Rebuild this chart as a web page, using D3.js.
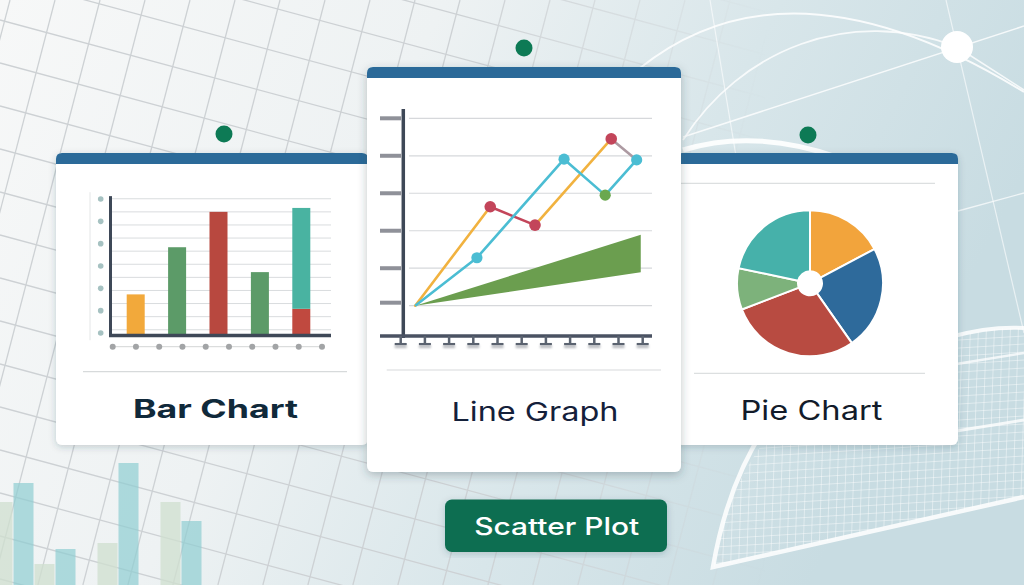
<!DOCTYPE html>
<html><head><meta charset="utf-8">
<script src="https://cdn.jsdelivr.net/npm/d3@7"></script>
<style>html,body{margin:0;padding:0;overflow:hidden;background:#eef2f3}</style>
</head><body><svg id="c" width="1024" height="585"></svg>
<script>
// ---------------- DATA ----------------
const barCategories = ["A", "B", "C", "D", "E"];
const barValues = [3.1, 6.7, 9.4, 4.8, 2.0];
const barStackValues = [0, 0, 0, 0, 7.7];
const barGridTicks = [0.4, 1.4, 2.4, 3.4, 4.4, 5.4, 6.4, 7.4, 8.4, 9.4, 10.4];
const barYDots = [0, 1, 2, 3, 4, 5, 6];
const barXDots = [0, 1, 2, 3, 4, 5, 6, 7, 8, 9];

const lineXTicks = [0, 1, 2, 3, 4, 5, 6, 7, 8, 9, 10];
const lineYTicks = [0, 1, 2, 3, 4, 5];
const lineUpper = [[0.6, 0], [3.7, 2.64], [5.55, 2.15], [8.7, 4.45], [9.75, 3.89]];
const lineBlue = [[0.6, 0], [3.15, 1.28], [6.75, 3.91], [8.45, 2.95], [9.75, 3.89]];
const bandX = [0.6, 9.92];
const bandLow = [0, 0.89];
const bandHigh = [0, 1.89];

const pieLabels = ["Orange", "Blue", "Red", "Green", "Teal"];
const pieValues = [62, 83, 104, 33, 78];

const bgCategories = ["c0", "c1", "c2", "c3", "c4", "c5", "c6", "c7", "c8", "c9"];
const bgValues = [83, 102, 21, 36, null, 42, 122, null, 83, 64];
const bgKinds = ["s", "t", "s", "t", null, "s", "t", null, "s", "t"];

const titles = ["Bar Chart", "Line Graph", "Pie Chart", "Scatter Plot"];

// ---------------- STYLE ----------------
const C = {
  header: "#2b6a99", dot: "#0d7a55", axis: "#3e4857", grid: "#d9dcde",
  orange: "#f2a93b", green: "#5c9b68", red: "#b8483f", teal: "#49b3a1",
  lOrange: "#f1b23f", lBlue: "#4bbdd3", lRed: "#c3455a", lMauve: "#ad9aa2", lGreen: "#6aa84f",
  band: "#6b9e4f"
};
const barColors = [C.orange, C.green, C.red, C.green, "#c0493f"];
const pieColors = ["#f2a43c", "#2e6a9b", "#b84b41", "#7db27b", "#46b1aa"];

const svg = d3.select("#c");
const defs = svg.append("defs");

// background gradient
const bg = defs.append("linearGradient").attr("id", "bgG").attr("x1", 0).attr("y1", 0).attr("x2", 1).attr("y2", 0.3);
[[0, "#f7f8f8"], [0.4, "#eef2f3"], [0.7, "#d8e6ea"], [1, "#c8dce2"]].forEach(s => bg.append("stop").attr("offset", s[0]).attr("stop-color", s[1]));
svg.append("rect").attr("width", 1024).attr("height", 585).attr("fill", "url(#bgG)");

// shadow filters
const sh = defs.append("filter").attr("id", "sh").attr("x", -0.1).attr("y", -0.1).attr("width", 1.2).attr("height", 1.2);
sh.append("feDropShadow").attr("dx", 0).attr("dy", 2).attr("stdDeviation", 3.5).attr("flood-color", "#2a3d4a").attr("flood-opacity", 0.22);
const sh2 = defs.append("filter").attr("id", "sh2").attr("x", -0.1).attr("y", -0.1).attr("width", 1.2).attr("height", 1.2);
sh2.append("feDropShadow").attr("dx", 0).attr("dy", 3).attr("stdDeviation", 5).attr("flood-color", "#2a3d4a").attr("flood-opacity", 0.3);
const tsh = defs.append("filter").attr("id", "tsh").attr("x", -0.5).attr("y", -0.5).attr("width", 2).attr("height", 2);
tsh.append("feGaussianBlur").attr("stdDeviation", 1.2);

// grid mask
const mg = defs.append("linearGradient").attr("id", "mG").attr("x1", 0).attr("y1", 0).attr("x2", 1).attr("y2", 0);
[[0, 1], [0.45, 1], [0.62, 0.5], [0.75, 0]].forEach(s => mg.append("stop").attr("offset", s[0]).attr("stop-color", "white").attr("stop-opacity", s[1]));
defs.append("mask").attr("id", "gm").append("rect").attr("width", 1024).attr("height", 585).attr("fill", "url(#mG)");

// left perspective grid
const gridG = svg.append("g").attr("mask", "url(#gm)").attr("stroke", "#cdd1d4").attr("stroke-width", 1.3).attr("fill", "none");
d3.range(-6, 26).forEach(i => {
  const x0 = 10 + 45 * i;
  gridG.append("line").attr("x1", x0).attr("y1", 0).attr("x2", x0 - 0.26 * 585).attr("y2", 585);
});
d3.range(-12, 16).forEach(j => {
  const y0 = 20 + 43 * j;
  gridG.append("line").attr("x1", 0).attr("y1", y0).attr("x2", 1024).attr("y2", y0 + 0.27 * 1024);
});

// right-side decorative white lines
const deco = svg.append("g").attr("fill", "none").attr("stroke", "white");
deco.append("path").attr("d", "M 640,68 Q 790,-52 1024,92").attr("stroke-width", 2).attr("stroke-opacity", 0.85);
deco.append("path").attr("d", "M 683,140 C 740,50 850,5 957,47").attr("stroke-width", 1.8).attr("stroke-opacity", 0.8);
deco.append("line").attr("x1", 683).attr("y1", 137).attr("x2", 1024).attr("y2", 26).attr("stroke-width", 1.5).attr("stroke-opacity", 0.8);
deco.append("line").attr("x1", 957).attr("y1", 47).attr("x2", 1024).attr("y2", 90).attr("stroke-width", 1.5).attr("stroke-opacity", 0.8);
deco.append("line").attr("x1", 710).attr("y1", 0).attr("x2", 760).attr("y2", 300).attr("stroke-width", 1.2).attr("stroke-opacity", 0.6);
deco.append("line").attr("x1", 946).attr("y1", 0).attr("x2", 1024).attr("y2", 333).attr("stroke-width", 1.2).attr("stroke-opacity", 0.6);
deco.append("line").attr("x1", 958).attr("y1", 211).attr("x2", 1024).attr("y2", 193).attr("stroke-width", 1.3).attr("stroke-opacity", 0.7);
deco.append("path").attr("d", "M 683,150 Q 755,128 840,158").attr("stroke-width", 5).attr("stroke-opacity", 0.9);
svg.append("circle").attr("cx", 957).attr("cy", 47).attr("r", 16).attr("fill", "white");

// bottom-right fine grid
defs.append("clipPath").attr("id", "fg").append("path").attr("d", "M 713,567 Q 728,470 800,400 L 958,336 Q 990,326 1024,328 L 1024,497 Z");
const fgG = svg.append("g").attr("clip-path", "url(#fg)").attr("stroke", "white").attr("stroke-opacity", 0.55).attr("stroke-width", 0.8);
d3.range(0, 50).forEach(i => fgG.append("line").attr("x1", 700 + i * 8).attr("y1", 280).attr("x2", 690 + i * 8).attr("y2", 585));
d3.range(0, 45).forEach(i => fgG.append("line").attr("x1", 700).attr("y1", 260 + i * 8).attr("x2", 1024).attr("y2", 240 + i * 8));
deco.append("path").attr("d", "M 770,420 Q 728,480 713,567 L 1024,497").attr("stroke-width", 4.5).attr("stroke-opacity", 0.85);
deco.append("path").attr("d", "M 950,337 Q 990,326 1024,328").attr("stroke-width", 4).attr("stroke-opacity", 0.85);
deco.append("line").attr("x1", 950).attr("y1", 365).attr("x2", 1024).attr("y2", 353).attr("stroke-width", 2.5).attr("stroke-opacity", 0.75);
deco.append("line").attr("x1", 950).attr("y1", 432).attr("x2", 1024).attr("y2", 420).attr("stroke-width", 3).attr("stroke-opacity", 0.8);

// faint background bars (bottom-left)
const bgX = d3.scaleBand().domain(bgCategories).range([-8, 202]).padding(0);
const bgY = d3.scaleLinear().domain([0, 130]).range([585, 455]);
svg.append("g").selectAll("rect").data(bgCategories.map((c, i) => ({ c, v: bgValues[i], k: bgKinds[i] })).filter(d => d.v !== null))
  .join("rect").attr("x", d => bgX(d.c) + 0.5).attr("width", bgX.bandwidth() - 1)
  .attr("y", d => bgY(d.v)).attr("height", d => bgY(0) - bgY(d.v))
  .attr("fill", d => d.k === "t" ? "#8fcdd2" : "#cfdfcf").attr("fill-opacity", d => d.k === "t" ? 0.7 : 0.75);

// green dots
[[224, 134], [524, 48], [808, 135]].forEach(p => svg.append("circle").attr("cx", p[0]).attr("cy", p[1]).attr("r", 8.5).attr("fill", C.dot));

// card helper
function card(x, y, w, h, filt) {
  const g = svg.append("g");
  g.append("rect").attr("x", x).attr("y", y).attr("width", w).attr("height", h).attr("rx", 6).attr("fill", "white").attr("filter", filt);
  const r = 6, hh = 11;
  g.append("path").attr("d", `M${x},${y + hh} L${x},${y + r} Q${x},${y} ${x + r},${y} L${x + w - r},${y} Q${x + w},${y} ${x + w},${y + r} L${x + w},${y + hh} Z`).attr("fill", C.header);
  return g;
}

// ---------------- LEFT CARD: BAR CHART ----------------
const L = card(56, 153, 312, 292, "url(#sh)");
const bx = d3.scalePoint().domain(barCategories).range([115, 322]).padding(0.5);
const by = d3.scaleLinear().domain([0, 10]).range([335, 204]);
const barW = 18;
L.append("line").attr("x1", 90).attr("x2", 90).attr("y1", by(10.9)).attr("y2", by(-0.4)).attr("stroke", "#e4e6e7").attr("stroke-width", 1);
L.append("g").selectAll("line").data(barGridTicks).join("line")
  .attr("x1", 111).attr("x2", 331).attr("y1", d => by(d)).attr("y2", d => by(d)).attr("stroke", C.grid).attr("stroke-width", 1);
L.append("g").selectAll("rect").data(barCategories).join("rect")
  .attr("x", d => bx(d) - barW / 2).attr("width", barW)
  .attr("y", (d, i) => by(barValues[i])).attr("height", (d, i) => by(0) - by(barValues[i]))
  .attr("fill", (d, i) => barColors[i]);
L.append("g").selectAll("rect").data(barCategories.filter((d, i) => barStackValues[i] > 0)).join("rect")
  .attr("x", d => bx(d) - barW / 2).attr("width", barW)
  .attr("y", d => { const i = barCategories.indexOf(d); return by(barValues[i] + barStackValues[i]); })
  .attr("height", d => { const i = barCategories.indexOf(d); return by(barValues[i]) - by(barValues[i] + barStackValues[i]); })
  .attr("fill", C.teal);
L.append("line").attr("x1", 110.5).attr("x2", 110.5).attr("y1", by(10.6)).attr("y2", by(0) + 1.5).attr("stroke", C.axis).attr("stroke-width", 3);
L.append("line").attr("x1", 109).attr("x2", 331).attr("y1", by(0) + 0.5).attr("y2", by(0) + 0.5).attr("stroke", C.axis).attr("stroke-width", 3.5);
const bdy = d3.scalePoint().domain(barYDots).range([333, 199]);
L.append("g").selectAll("circle").data(barYDots).join("circle").attr("cx", 100.7).attr("cy", d => bdy(d)).attr("r", 2.8).attr("fill", "#a6c2c2");
const bdx = d3.scalePoint().domain(barXDots).range([112.7, 322]);
L.append("line").attr("x1", 112).attr("x2", 323).attr("y1", 346.7).attr("y2", 346.7).attr("stroke", "#d3d5d6").attr("stroke-width", 1);
L.append("g").selectAll("circle").data(barXDots).join("circle").attr("cx", d => bdx(d)).attr("cy", 346.7).attr("r", 3).attr("fill", "#a2a4a6");
L.append("line").attr("x1", 83).attr("x2", 347).attr("y1", 371.7).attr("y2", 371.7).attr("stroke", "#d7dadb").attr("stroke-width", 1.2);
L.append("text").attr("x", 215.5).attr("y", 418).attr("text-anchor", "middle").attr("font-family", "Inter, 'DejaVu Sans', sans-serif")
  .attr("font-weight", 700).attr("font-size", 25.5).attr("fill", "#10293a").attr("textLength", 165).attr("lengthAdjust", "spacingAndGlyphs").text(titles[0]);

// ---------------- RIGHT CARD: PIE CHART ----------------
const R = card(676, 153, 282, 292, "url(#sh)");
R.append("line").attr("x1", 680).attr("x2", 935).attr("y1", 183.3).attr("y2", 183.3).attr("stroke", "#dcdfe0").attr("stroke-width", 1.2);
R.append("line").attr("x1", 694).attr("x2", 925).attr("y1", 373.3).attr("y2", 373.3).attr("stroke", "#dcdfe0").attr("stroke-width", 1.2);
const pie = d3.pie().sort(null).value(d => d)(pieValues);
const arc = d3.arc().innerRadius(12).outerRadius(73);
R.append("g").attr("transform", "translate(810,283.3)").selectAll("path").data(pie).join("path")
  .attr("d", arc).attr("fill", (d, i) => pieColors[i]).attr("stroke", "white").attr("stroke-width", 2);
R.append("text").attr("x", 811.5).attr("y", 420).attr("text-anchor", "middle").attr("font-family", "Inter, 'DejaVu Sans', sans-serif")
  .attr("font-weight", 400).attr("font-size", 26.5).attr("fill", "#121b2a").attr("textLength", 142).attr("lengthAdjust", "spacingAndGlyphs").text(titles[2]);

// ---------------- CENTER CARD: LINE GRAPH ----------------
const M = card(367, 67, 314, 405, "url(#sh2)");
const lx = d3.scaleLinear().domain([0, 10]).range([400.7, 642.7]);
const ly = d3.scaleLinear().domain([0, 5]).range([305.7, 118.3]);
M.append("g").selectAll("line").data(lineYTicks).join("line")
  .attr("x1", 409).attr("x2", 652).attr("y1", d => ly(d)).attr("y2", d => ly(d)).attr("stroke", "#d6d8db").attr("stroke-width", 1.2);
M.append("g").selectAll("line").data(lineYTicks).join("line")
  .attr("x1", 380).attr("x2", 401).attr("y1", d => ly(d) - (d === 0 ? 3 : 0)).attr("y2", d => ly(d) - (d === 0 ? 3 : 0)).attr("stroke", "#8f9199").attr("stroke-width", 4);
// band area
const bandData = bandX.map((x, i) => ({ x, lo: bandLow[i], hi: bandHigh[i] }));
M.append("path").datum(bandData).attr("d", d3.area().x(d => lx(d.x)).y0(d => ly(d.lo)).y1(d => ly(d.hi))).attr("fill", C.band);
// lines
const lineGen = d3.line().x(d => lx(d[0])).y(d => ly(d[1]));
const upperColors = [C.lOrange, C.lRed, C.lOrange, C.lMauve];
d3.range(lineUpper.length - 1).forEach(i => {
  M.append("path").attr("d", lineGen([lineUpper[i], lineUpper[i + 1]])).attr("fill", "none").attr("stroke", upperColors[i]).attr("stroke-width", 2.6).attr("stroke-linecap", "round");
});
M.append("path").attr("d", lineGen(lineBlue)).attr("fill", "none").attr("stroke", C.lBlue).attr("stroke-width", 2.6).attr("stroke-linejoin", "round");
M.append("g").selectAll("circle").data(lineUpper.slice(1, 4)).join("circle").attr("cx", d => lx(d[0])).attr("cy", d => ly(d[1])).attr("r", 5.8).attr("fill", C.lRed);
M.append("g").selectAll("circle").data([lineBlue[1], lineBlue[2], lineBlue[4]]).join("circle").attr("cx", d => lx(d[0])).attr("cy", d => ly(d[1])).attr("r", 5.6).attr("fill", C.lBlue);
M.append("circle").datum(lineBlue[3]).attr("cx", d => lx(d[0])).attr("cy", d => ly(d[1])).attr("r", 5.6).attr("fill", C.lGreen);
// axes
const base = ly(-0.81);
M.append("line").attr("x1", 403.3).attr("x2", 403.3).attr("y1", ly(5.25)).attr("y2", base + 2).attr("stroke", C.axis).attr("stroke-width", 3.5);
M.append("line").attr("x1", 380).attr("x2", 652).attr("y1", base).attr("y2", base).attr("stroke", "#4a5262").attr("stroke-width", 3.5);
const tk = M.append("g");
tk.selectAll("rect.s").data(lineXTicks).join("rect").attr("class", "s").attr("x", d => lx(d) - 6).attr("y", base + 9).attr("width", 12).attr("height", 3).attr("fill", "#b9bcc0").attr("filter", "url(#tsh)");
tk.selectAll("line.v").data(lineXTicks).join("line").attr("class", "v").attr("x1", d => lx(d)).attr("x2", d => lx(d)).attr("y1", base).attr("y2", base + 8).attr("stroke", "#5b6370").attr("stroke-width", 2.5);
tk.selectAll("line.h").data(lineXTicks).join("line").attr("class", "h").attr("x1", d => lx(d) - 6).attr("x2", d => lx(d) + 6).attr("y1", base + 8).attr("y2", base + 8).attr("stroke", "#5b6370").attr("stroke-width", 2.2);
M.append("line").attr("x1", 386.7).attr("x2", 661).attr("y1", 370).attr("y2", 370).attr("stroke", "#d7dadb").attr("stroke-width", 1.2);
M.append("text").attr("x", 535).attr("y", 421).attr("text-anchor", "middle").attr("font-family", "Inter, 'DejaVu Sans', sans-serif")
  .attr("font-weight", 400).attr("font-size", 26).attr("fill", "#14203a").attr("textLength", 167).attr("lengthAdjust", "spacingAndGlyphs").text(titles[1]);

// ---------------- SCATTER PLOT BUTTON ----------------
svg.append("rect").attr("x", 445).attr("y", 499.5).attr("width", 222).attr("height", 52.5).attr("rx", 7).attr("fill", "#0f6e51").attr("filter", "url(#sh)");
svg.append("text").attr("x", 556.7).attr("y", 535).attr("text-anchor", "middle").attr("font-family", "Inter, 'DejaVu Sans', sans-serif")
  .attr("font-weight", 500).attr("font-size", 24).attr("fill", "white").attr("textLength", 165).attr("lengthAdjust", "spacingAndGlyphs").text(titles[3]);
</script></body></html>
